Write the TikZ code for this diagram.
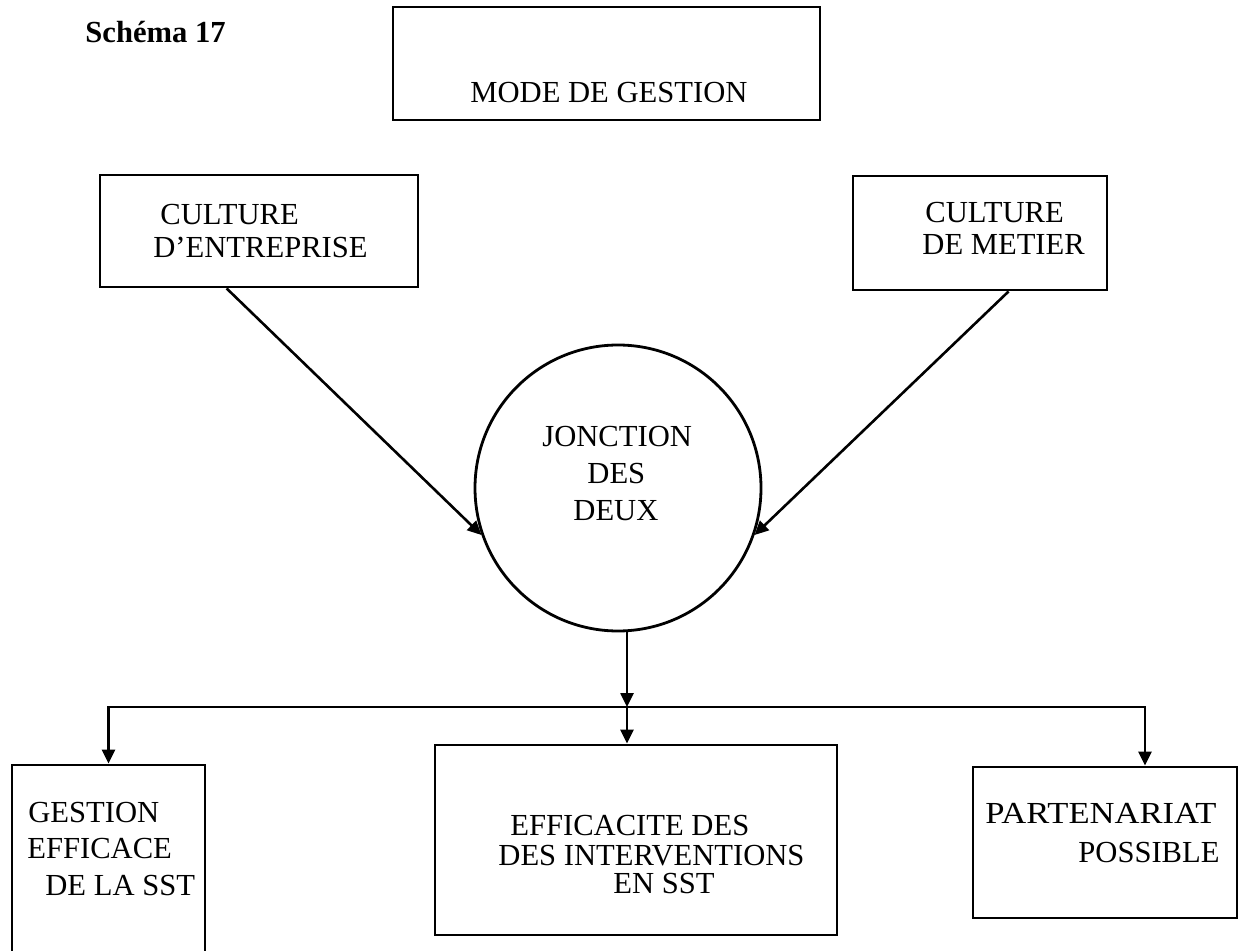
\documentclass[tikz,border=0pt]{standalone}
\usepackage{fontspec}
\usepackage{graphicx}
\setmainfont{Liberation Serif}
\usetikzlibrary{arrows.meta}
\begin{document}
\begin{tikzpicture}[x=0.5pt,y=-0.5pt,
  frame/.style={draw, line width=1.4pt, rectangle, inner sep=0pt},
  ring/.style={draw, line width=1.4pt, circle, inner sep=0pt},
  txt/.style={anchor=base west, inner sep=0pt, font=\fontsize{15.3}{18}\selectfont},
  link/.style={line width=1.3pt},
  arr/.style={link, -{Triangle[length=7pt,width=6.5pt]}},
]
\useasboundingbox (0,0) rectangle (1246,951);

% title
\node[txt, font=\bfseries\fontsize{15.3}{18}\selectfont] (title) at (85,43) {Schéma 17};

% boxes
\node[frame, minimum width=213.5pt, minimum height=56.5pt] (mode) at (606.5,63.5) {};
\node[frame, minimum width=159pt, minimum height=56pt] (entreprise) at (259,231) {};
\node[frame, minimum width=127pt, minimum height=57pt] (metier) at (980,233) {};
\node[ring, minimum size=143pt] (jonction) at (618,488) {};
\node[frame, minimum width=96.5pt, minimum height=105pt] (gestion) at (108.5,870) {};
\node[frame, minimum width=201pt, minimum height=95pt] (interv) at (636,840) {};
\node[frame, minimum width=132pt, minimum height=75.5pt] (partner) at (1105,842.5) {};

% labels
\node[txt] (l-mode) at (470,103) {MODE DE GESTION};
\node[txt] (l-ent1) at (160,225) {CULTURE};
\node[txt] (l-ent2) at (153,258) {D’ENTREPRISE};
\node[txt] (l-met1) at (925,223) {CULTURE};
\node[txt] (l-met2) at (922,255) {DE METIER};
\node[txt] (l-jon1) at (542,447) {JONCTION};
\node[txt] (l-jon2) at (587,483) {DES};
\node[txt] (l-jon3) at (573,520) {DEUX};
\node[txt] (l-ges1) at (28,822) {GESTION};
\node[txt] (l-ges2) at (27,858) {EFFICACE};
\node[txt] (l-ges3) at (45,895) {DE LA SST};
\node[txt] (l-int1) at (510,835) {EFFICACITE DES};
\node[txt] (l-int2) at (498,865) {DES INTERVENTIONS};
\node[txt] (l-int3) at (613,893) {EN SST};
\node[txt] (l-par1) at (985,823) {\scalebox{1.13}[1]{PARTENARIAT}};
\node[txt] (l-par2) at (1078,862) {POSSIBLE};

% connectors
\coordinate (split) at (627,707);
\coordinate (rk) at (1145,707);
\draw[arr] ([xshift=64pt]entreprise.south west) -- (jonction.199);
\draw[arr] ([xshift=78.5pt]metier.south west) -- (jonction.-19);
\draw[arr] (jonction.south -| split) -- (split);
\draw[arr] (split) -- (split |- interv.north);
\draw[arr] (split) -| (gestion.north);
\draw[arr] (split) -| (rk |- partner.north);
\end{tikzpicture}
\end{document}
